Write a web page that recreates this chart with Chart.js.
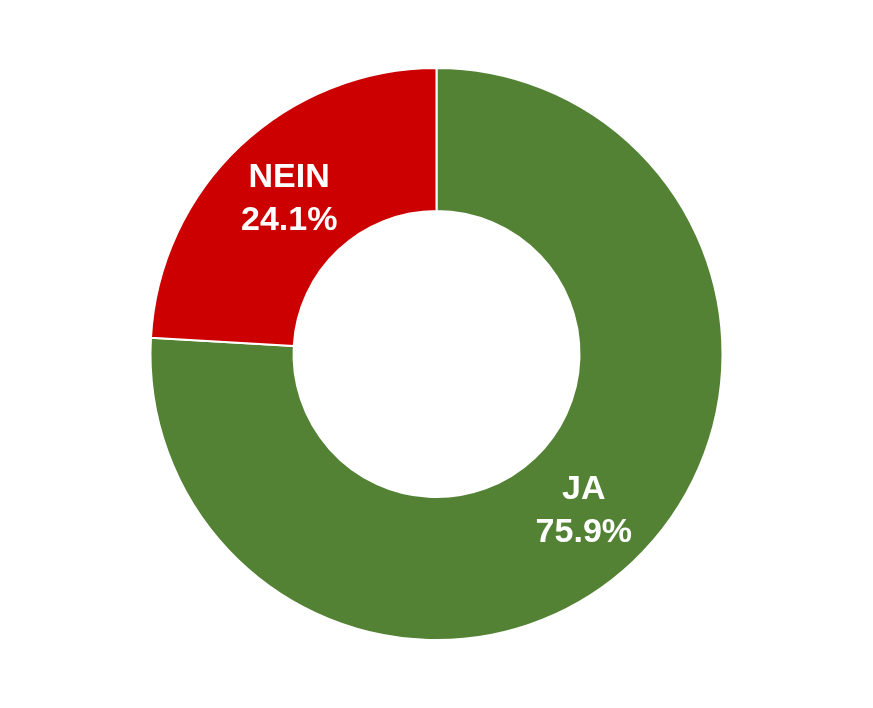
<!DOCTYPE html>
<html>
<head>
<meta charset="utf-8">
<script src="https://cdn.jsdelivr.net/npm/chart.js@4/dist/chart.umd.min.js"></script>
<style>
  html, body { margin: 0; padding: 0; background: #fff; }
  #wrap { width: 873px; height: 708px; }
</style>
</head>
<body>
<div id="wrap"><canvas id="donut"></canvas></div>
<script>
const labels = ['JA', 'NEIN'];
const values = [75.9, 24.1];
const colors = ['#548235', '#CC0000'];

// draws "LABEL / xx.x%" in the middle of each arc
const sliceLabels = {
    id: 'sliceLabels',
    afterDatasetsDraw(chart) {
        const ctx = chart.ctx;
        const meta = chart.getDatasetMeta(0);
        ctx.save();
        ctx.fillStyle = '#fff';
        ctx.font = 'bold 34px "Liberation Sans", Arial, sans-serif';
        ctx.textAlign = 'center';
        ctx.textBaseline = 'middle';
        meta.data.forEach((arc, i) => {
            const pos = arc.tooltipPosition();
            ctx.fillText(labels[i], pos.x, pos.y - 20);
            ctx.fillText(values[i].toFixed(1) + '%', pos.x, pos.y + 23);
        });
        ctx.restore();
    }
};

new Chart(document.getElementById('donut'), {
    type: 'doughnut',
    data: {
        labels: labels,
        datasets: [{
            data: values,
            backgroundColor: colors,
            borderColor: '#fff',
            borderWidth: 2
        }]
    },
    options: {
        responsive: true,
        maintainAspectRatio: false,
        animation: false,
        cutout: '50%',
        layout: { padding: { top: 67, bottom: 67 } },
        plugins: {
            legend: { display: false },
            tooltip: { enabled: false }
        }
    },
    plugins: [sliceLabels]
});
</script>
</body>
</html>
